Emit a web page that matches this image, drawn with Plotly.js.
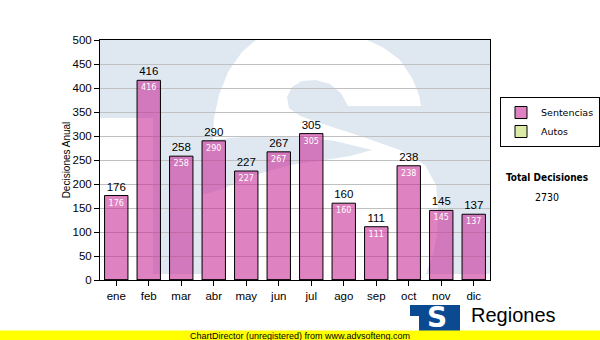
<!DOCTYPE html>
<html><head><meta charset="utf-8">
<script src="https://cdn.plot.ly/plotly-3.0.1.min.js"></script>
<style>html,body{margin:0;padding:0;background:#fff}#chart{width:600px;height:340px}</style>
</head><body><div id="chart"></div>
<script>
// ---- data ----
const months = ['ene','feb','mar','abr','may','jun','jul','ago','sep','oct','nov','dic'];
const sentencias = [176,416,258,290,227,267,305,160,111,238,145,137];
const autos = [0,0,0,0,0,0,0,0,0,0,0,0];
const seriesNames = ['Sentencias','Autos'];
const yTitle = 'Decisiones Anual';
const totalLabel = 'Total Decisiones';
const brandName = 'Regiones';
const footerText = 'ChartDirector (unregistered) from www.advsofteng.com';
const yTicks = [0,50,100,150,200,250,300,350,400,450,500];

const total = sentencias.reduce((a,b)=>a+b,0) + autos.reduce((a,b)=>a+b,0);

// ---- geometry helpers (pixel -> paper) ----
const L=100, R=490, T=40, B=280;
const PX = x => (x-L)/(R-L);
const PY = y => (B-y)/(B-T);
const poly = pts => 'M' + pts.map(p => PX(p[0]).toFixed(4)+','+PY(p[1]).toFixed(4)).join(' L') + ' Z';

const wmBlue = [[100,40],[490,40],[490,274],[153,274],[153,118],[100,118]];
const wmWhite = [
  [213,140],[214,118],[219,95],[228,72],[242,52],[256,40],
  [367,40],[384,48],[400,60],[412,78],[419,95],[421,106],
  [348,106],[341,93],[330,84],[316,80],[302,81],[292,87],[287,97],[289,108],
  [300,116],[320,123],[360,136],[400,150],[425,165],[436,185],[438,208],
  [437,235],[432,258],[426,274],
  [203,274],[203,195],
  [225,188],[255,175],[290,165],[325,160],[350,156],[372,150],
  [335,141],[295,136],[255,136],[230,138]
];

const shapes = [
  {type:'path', xref:'paper', yref:'paper', layer:'below', path: poly(wmBlue), fillcolor:'#dfe8f1', line:{width:0}},
  {type:'path', xref:'paper', yref:'paper', layer:'below', path: poly(wmWhite), fillcolor:'#ffffff', line:{width:0}},
  // logo
  {type:'rect', xref:'paper', yref:'paper', x0:PX(410), x1:PX(460), y0:PY(331), y1:PY(305), fillcolor:'#0b4a91', line:{width:0}},
  {type:'rect', xref:'paper', yref:'paper', x0:PX(410), x1:PX(419), y0:PY(331), y1:PY(316), fillcolor:'#ffffff', line:{width:0}},
  // footer band
  {type:'rect', xref:'paper', yref:'paper', x0:PX(0), x1:PX(600), y0:PY(341), y1:PY(330.5), fillcolor:'#ffff00', line:{width:0}}
];

const ann = (x, y, text, font, xanchor) => ({xref:'paper', yref:'paper', x:PX(x), y:PY(y), text:text,
  showarrow:false, xanchor:xanchor||'center', yanchor:'middle', font:font});

const annotations = [
  ann(547, 177, '<b>'+totalLabel+'</b>', {family:'DejaVu Sans Condensed, DejaVu Sans', size:10, color:'#000'}),
  ann(547, 197, String(total), {family:'DejaVu Sans Condensed, DejaVu Sans', size:10.5, color:'#000'}),
  ann(300, 335.5, footerText, {family:'Liberation Sans, Arial', size:9, color:'#000'}),
  ann(437, 317, '<b>S</b>', {family:'DejaVu Sans, Liberation Sans', size:28, color:'#fff'}),
  ann(469, 315, brandName, {family:'Liberation Sans, Arial', size:20, color:'#000'}, 'left')
];

const barColor = 'rgba(200,40,150,0.58)';

const traces = [
  {type:'bar', name:seriesNames[0], x:months, y:sentencias,
   marker:{color:barColor, line:{color:'#000', width:1}},
   text:sentencias.map(String), textposition:'inside', insidetextanchor:'end',
   textfont:{family:'DejaVu Sans', size:8, color:'#fff'}, hoverinfo:'x+y'},
  {type:'bar', name:seriesNames[1], x:months, y:autos,
   marker:{color:'#dbeaa4', line:{color:'#000', width:1}}, hoverinfo:'x+y'},
  {type:'bar', name:'labels', x:months, y:sentencias, showlegend:false,
   marker:{color:'rgba(0,0,0,0)', line:{width:0}},
   text:sentencias.map(String), textposition:'outside', cliponaxis:false,
   textfont:{family:'Liberation Sans, Arial', size:11.5, color:'#000'}, hoverinfo:'skip'}
];

const layout = {
  width:600, height:340,
  margin:{l:L, r:600-R, t:T, b:340-B, pad:0, autoexpand:false},
  paper_bgcolor:'#fff', plot_bgcolor:'rgba(0,0,0,0)',
  barmode:'overlay', bargap:0.28,
  font:{family:'Liberation Sans, Arial', size:11.5, color:'#000'},
  xaxis:{type:'category', showline:true, linecolor:'#000', linewidth:1, mirror:true,
         ticks:'outside', ticklen:5, tickcolor:'#000', showgrid:false, zeroline:false,
         tickfont:{family:'Liberation Sans, Arial', size:11.5, color:'#000'}},
  yaxis:{range:[0,500], tickvals:yTicks, showline:true, linecolor:'#000', linewidth:1, mirror:true,
         ticks:'outside', ticklen:5, tickcolor:'#000', showgrid:true, gridcolor:'#c0c0c0', gridwidth:1,
         zeroline:false, tickfont:{family:'Liberation Sans, Arial', size:11.5, color:'#000'},
         title:{text:yTitle, standoff:0, font:{family:'Liberation Sans, Arial', size:10, color:'#000'}}},
  showlegend:true,
  legend:{x:PX(500), y:PY(97), xanchor:'left', yanchor:'top', bgcolor:'#fff',
          bordercolor:'#000', borderwidth:1, traceorder:'normal', tracegroupgap:0,
          font:{family:'DejaVu Sans', size:9.5, color:'#000'}},
  shapes:shapes, annotations:annotations
};

Plotly.newPlot('chart', traces, layout, {displayModeBar:false, staticPlot:true});
</script></body></html>
